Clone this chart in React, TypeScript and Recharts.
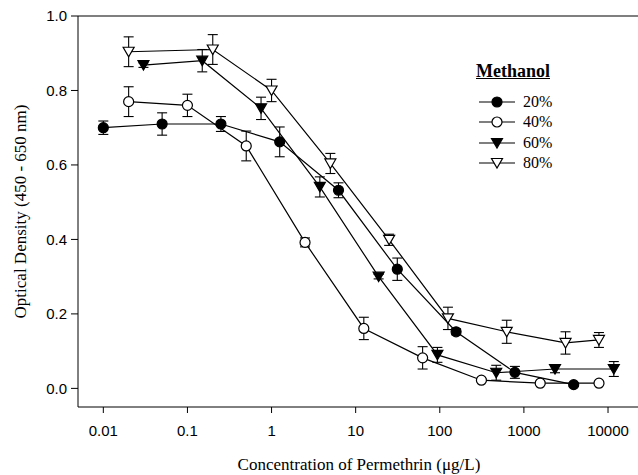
import React from 'react'
import { LineChart, Line, XAxis, YAxis, ErrorBar, Label, ReferenceLine } from 'recharts'

// permethrin concentration (µg/L), 5-fold dilutions
const conc20 = [0.01, 0.05, 0.25, 1.25, 6.25, 31.25, 156.25, 781.25, 3906.25]
const od20 = [0.70, 0.71, 0.71, 0.662, 0.532, 0.32, 0.152, 0.043, 0.01]
const err20 = [0.018, 0.03, 0.02, 0.04, 0.02, 0.03, 0.008, 0.016, 0.004]

const conc40 = [0.02, 0.1, 0.5, 2.5, 12.5, 62.5, 312.5, 1562.5, 7812.5]
const od40 = [0.77, 0.76, 0.651, 0.392, 0.161, 0.082, 0.022, 0.014, 0.014]
const err40 = [0.04, 0.03, 0.04, 0.012, 0.03, 0.03, 0.004, 0.004, 0.004]

const conc60 = [0.03, 0.15, 0.75, 3.75, 18.75, 93.75, 468.75, 2343.75, 11718.75]
const od60 = [0.868, 0.88, 0.752, 0.541, 0.30, 0.09, 0.042, 0.052, 0.052]
const err60 = [0.006, 0.03, 0.03, 0.027, 0.006, 0.02, 0.02, 0.01, 0.02]

const conc80 = [0.02, 0.2, 1, 5, 25, 125, 625, 3125, 7800]
const od80 = [0.904, 0.91, 0.80, 0.604, 0.399, 0.188, 0.152, 0.122, 0.13]
const err80 = [0.04, 0.04, 0.03, 0.027, 0.015, 0.03, 0.031, 0.03, 0.02]

const xTicks = [0.01, 0.1, 1, 10, 100, 1000, 10000]
const yTicks = [0, 0.2, 0.4, 0.6, 0.8, 1.0]

const seriesNames = ['20%', '40%', '60%', '80%']

const build = (c: number[], v: number[], e: number[]) =>
  c.map((x, i) => ({ conc: x, od: v[i], err: e[i] }))

const series = [
  { name: seriesNames[0], data: build(conc20, od20, err20), shape: 'circle', filled: true },
  { name: seriesNames[1], data: build(conc40, od40, err40), shape: 'circle', filled: false },
  { name: seriesNames[2], data: build(conc60, od60, err60), shape: 'tri', filled: true },
  { name: seriesNames[3], data: build(conc80, od80, err80), shape: 'tri', filled: false },
]

const serif = '"Liberation Serif", "Times New Roman", serif'
const sans = '"Liberation Sans", Arial, sans-serif'

function Marker({ cx, cy, shape, filled }: { cx: number; cy: number; shape: string; filled: boolean }) {
  const fill = filled ? '#000' : '#fff'
  if (shape === 'circle') {
    return <circle cx={cx} cy={cy} r={5} fill={fill} stroke="#000" strokeWidth={1.2} />
  }
  return (
    <polygon
      points={`${cx - 5.5},${cy - 4.5} ${cx + 5.5},${cy - 4.5} ${cx},${cy + 5}`}
      fill={fill}
      stroke="#000"
      strokeWidth={1.2}
    />
  )
}

// legend drawn as an overlay so it doesn't eat plot space
function LegendBox() {
  return (
    <div style={{ position: 'absolute', left: 476, top: 61, fontFamily: serif, color: '#000' }}>
      <div style={{ fontSize: 18, fontWeight: 'bold', textDecoration: 'underline', lineHeight: '20px' }}>
        Methanol
      </div>
      <div style={{ marginTop: 11, marginLeft: 2 }}>
        {series.map(s => (
          <div key={s.name} style={{ display: 'flex', alignItems: 'center', height: 20.3 }}>
            <svg width={38} height={14} style={{ marginRight: 7 }}>
              <line x1={1} y1={7} x2={37} y2={7} stroke="#000" strokeWidth={1.2} />
              <Marker cx={19} cy={7} shape={s.shape} filled={s.filled} />
            </svg>
            <span style={{ fontSize: 16 }}>{s.name}</span>
          </div>
        ))}
      </div>
    </div>
  )
}

export default function App() {
  return (
    <div style={{ position: 'absolute', left: 0, top: 0, width: 638, height: 475, overflow: 'hidden', background: '#fff' }}>
      <LineChart width={660} height={475} margin={{ top: 16, right: 20, bottom: 0, left: 18 }}>
        <XAxis
          dataKey="conc"
          type="number"
          scale="log"
          domain={[0.005, 24000]}
          ticks={xTicks}
          allowDataOverflow
          height={68}
          tickSize={6}
          tickMargin={12}
          stroke="#000"
          tick={{ fill: '#000', fontSize: 15, fontFamily: sans }}
        >
          <Label
            value="Concentration of Permethrin (μg/L)"
            position="insideBottom"
            offset={5}
            style={{ fontFamily: serif, fontSize: 17, fill: '#000' }}
          />
        </XAxis>
        <YAxis
          type="number"
          domain={[-0.05, 1.0]}
          ticks={yTicks}
          width={60}
          tickSize={7}
          tickMargin={4}
          stroke="#000"
          tickFormatter={(v: number) => v.toFixed(1)}
          tick={{ fill: '#000', fontSize: 15, fontFamily: sans }}
        >
          <Label
            value="Optical Density (450 - 650 nm)"
            angle={-90}
            position="insideLeft"
            offset={2}
            style={{ fontFamily: serif, fontSize: 17, fill: '#000', textAnchor: 'middle' }}
          />
        </YAxis>
        <ReferenceLine y={1.0} stroke="#000" strokeWidth={1.2} />
        <ReferenceLine x={24000} stroke="#000" strokeWidth={1} />
        {series.map(s => (
          <Line
            key={s.name}
            data={s.data}
            dataKey="od"
            name={s.name}
            stroke="#000"
            strokeWidth={1.2}
            isAnimationActive={false}
            legendType="none"
            dot={(p: any) => <Marker key={`${s.name}-${p.index}`} cx={p.cx} cy={p.cy} shape={s.shape} filled={s.filled} />}
            activeDot={false}
          >
            <ErrorBar dataKey="err" direction="y" width={5} stroke="#000" strokeWidth={1.1} />
          </Line>
        ))}
      </LineChart>
      <LegendBox />
    </div>
  )
}
